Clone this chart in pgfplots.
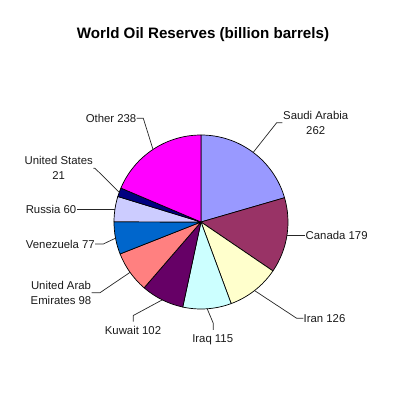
\documentclass[border=0pt]{standalone}
\usepackage{pgfplots}
\pgfplotsset{compat=1.18}
\usepackage{pgfplotstable}
\usepackage{fontspec}
\setmainfont{Liberation Sans}

\definecolor{cSaudi}{HTML}{9999FF}
\definecolor{cCanada}{HTML}{993366}
\definecolor{cIran}{HTML}{FFFFCC}
\definecolor{cIraq}{HTML}{CCFFFF}
\definecolor{cKuwait}{HTML}{660066}
\definecolor{cUAE}{HTML}{FF8080}
\definecolor{cVenezuela}{HTML}{0066CC}
\definecolor{cRussia}{HTML}{CCCCFF}
\definecolor{cUS}{HTML}{000080}
\definecolor{cOther}{HTML}{FF00FF}

\pgfplotstableread[col sep=comma]{
country,value,color
Saudi Arabia,262,cSaudi
Canada,179,cCanada
Iran,126,cIran
Iraq,115,cIraq
Kuwait,102,cKuwait
United Arab Emirates,98,cUAE
Venezuela,77,cVenezuela
Russia,60,cRussia
United States,21,cUS
Other,238,cOther
}\oildata

\gdef\total{0}
\pgfplotstableforeachcolumnelement{value}\of\oildata\as\v{%
  \pgfmathparse{\total+\v}\xdef\total{\pgfmathresult}}

\begin{document}
\begin{tikzpicture}
\begin{axis}[x=1bp,y=1bp,xmin=0,xmax=400,ymin=0,ymax=400,
  hide axis,clip=false]
\xdef\cum{0}
\pgfplotsinvokeforeach{0,...,9}{
  \pgfplotstablegetelem{#1}{value}\of\oildata \let\v\pgfplotsretval
  \pgfplotstablegetelem{#1}{color}\of\oildata \let\c\pgfplotsretval
  \pgfmathsetmacro\aA{90-360*(\cum/\total)}
  \pgfmathparse{\cum+\v}\xdef\cum{\pgfmathresult}
  \pgfmathsetmacro\aB{90-360*(\cum/\total)}
  \pgfmathsetmacro\px{201+87*cos(\aA)}
  \pgfmathsetmacro\py{178+87*sin(\aA)}
  \edef\doit{\noexpand\draw[fill=\c,draw=black,line width=0.7bp,line join=round]
    (axis cs:201,178) -- (axis cs:\px,\py)
    arc[start angle=\aA,end angle=\aB,radius=87] -- cycle;}
  \doit
}
% leader lines
\begin{scope}[black!85,line width=0.7bp]
\draw (axis cs:253.2,247.6) -- (axis cs:276.7,277.3) -- (axis cs:282.3,277.3);
\draw (axis cs:286.9,164.4) -- (axis cs:305,164.4);
\draw (axis cs:254.6,109.4) -- (axis cs:296.7,81.7) -- (axis cs:303.3,81.7);
\draw (axis cs:207.2,91.2) -- (axis cs:213.3,76.7) -- (axis cs:213.3,70);
\draw (axis cs:162.2,100.1) -- (axis cs:133.3,84.5) -- (axis cs:133.3,78.3);
\draw (axis cs:130,127.6) -- (axis cs:100,107.3) -- (axis cs:91.7,107.3);
\draw (axis cs:115.5,161.8) -- (axis cs:103.3,156) -- (axis cs:95,156);
\draw (axis cs:115,191) -- (axis cs:76.7,191);
\draw (axis cs:119.2,207.8) -- (axis cs:95,231.7) -- (axis cs:93.3,231.7);
\draw (axis cs:153,250.6) -- (axis cs:143.3,281.7) -- (axis cs:136.7,281.7);
\end{scope}
% labels
\begin{scope}[every node/.style={inner sep=0pt,font=\fontsize{11.4}{15}\selectfont,text=black!90}]
\node[anchor=west,align=center] at (axis cs:283,277.5) {Saudi Arabia\\262};
\node[anchor=west] at (axis cs:305.5,164.3) {Canada 179};
\node[anchor=west] at (axis cs:303.5,81.7) {Iran 126};
\node[anchor=base] at (axis cs:212.7,57.5) {Iraq 115};
\node[anchor=base] at (axis cs:133,65) {Kuwait 102};
\node[anchor=east,align=center] at (axis cs:91.5,107.5) {United Arab\\Emirates 98};
\node[anchor=east] at (axis cs:95,156) {Venezuela 77};
\node[anchor=east] at (axis cs:76.5,190.7) {Russia 60};
\node[anchor=east,align=center] at (axis cs:93,231.7) {United States\\21};
\node[anchor=east] at (axis cs:136.5,281.7) {Other 238};
\end{scope}
\node[font=\fontsize{15.2}{18}\selectfont\bfseries,inner sep=0pt] at (axis cs:203,365)
  {World Oil Reserves (billion barrels)};
\end{axis}
\pgfresetboundingbox
\path (0,0) rectangle (400bp,400bp);
\end{tikzpicture}
\end{document}
